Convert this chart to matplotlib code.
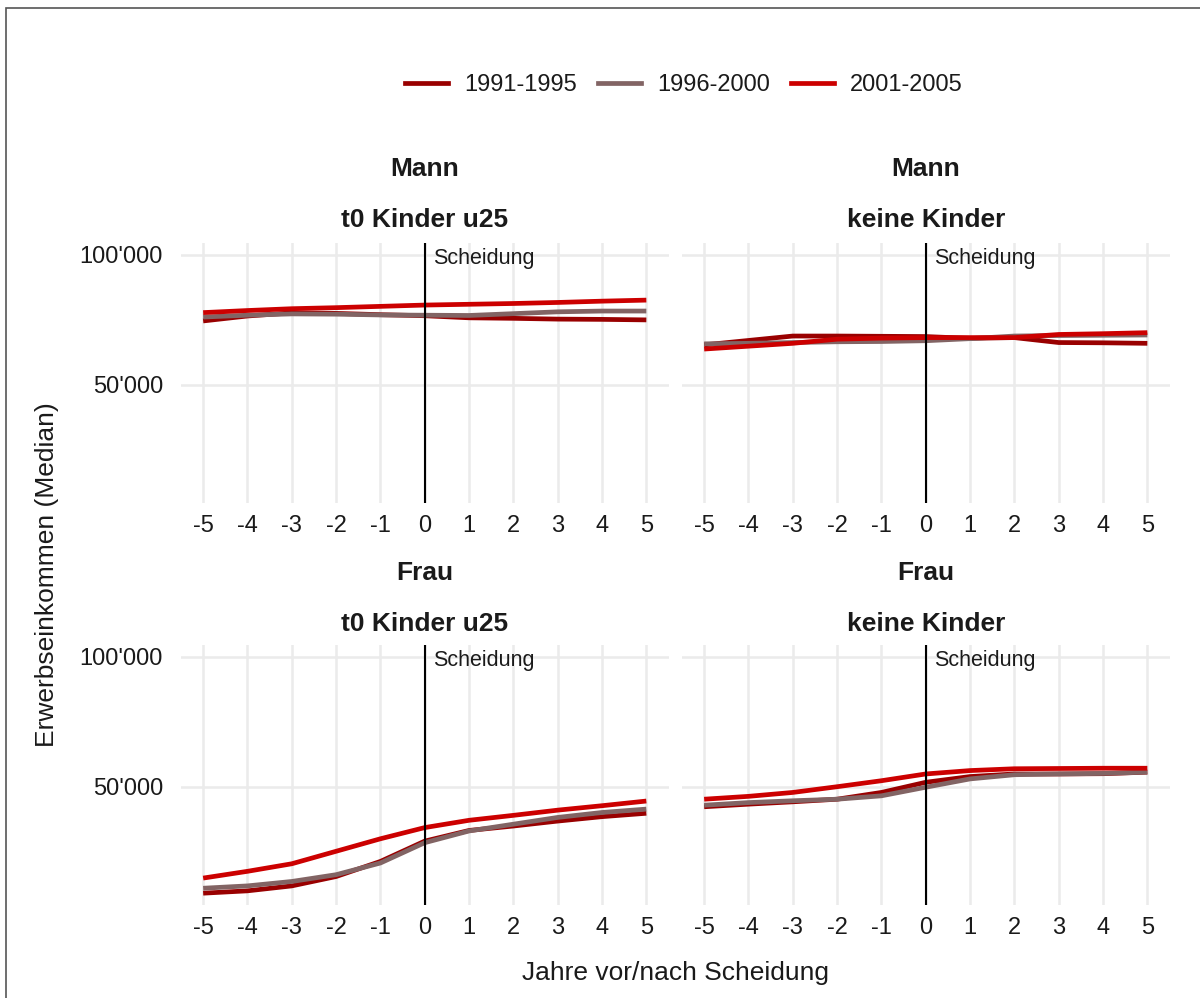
import matplotlib
matplotlib.use("Agg")
import matplotlib.pyplot as plt
from matplotlib.ticker import FuncFormatter
from matplotlib.patches import Rectangle
from matplotlib.lines import Line2D

plt.rcParams['font.family'] = ['Liberation Sans', 'DejaVu Sans']

years = [-5, -4, -3, -2, -1, 0, 1, 2, 3, 4, 5]
cohorts = ["1991-1995", "1996-2000", "2001-2005"]
colors = ["#990000", "#826464", "#CC0000"]

m_kids_1991 = [74600, 76500, 77700, 77500, 77000, 76600, 75800, 75600, 75300, 75200, 75000]
m_kids_1996 = [76100, 76800, 77300, 77200, 76900, 76800, 76700, 77400, 78100, 78400, 78400]
m_kids_2001 = [77800, 78600, 79300, 79700, 80200, 80700, 81000, 81300, 81700, 82200, 82600]

m_none_1991 = [65400, 67100, 68800, 68800, 68700, 68600, 67900, 68200, 66300, 66200, 66000]
m_none_1996 = [65800, 66000, 66300, 66600, 66700, 67000, 67800, 68800, 69000, 69100, 69200]
m_none_2001 = [63800, 64900, 66000, 67600, 68000, 68200, 68200, 68200, 69400, 69700, 70100]

f_kids_1991 = [9200, 10100, 12000, 15600, 21400, 29200, 33300, 35000, 36900, 38600, 39900]
f_kids_1996 = [11100, 12000, 13700, 16300, 20800, 28600, 33100, 35700, 38300, 40200, 41500]
f_kids_2001 = [15000, 17600, 20500, 25300, 30100, 34400, 37200, 39100, 41100, 42800, 44600]

f_none_1991 = [42400, 43400, 44300, 45300, 47900, 51800, 54000, 55000, 55000, 55100, 55700]
f_none_1996 = [43000, 44000, 44700, 45300, 46600, 49900, 53100, 54700, 55000, 55200, 55700]
f_none_2001 = [45300, 46400, 47900, 50100, 52400, 55000, 56300, 57000, 57100, 57200, 57200]

panels = [
    ("Mann", "t0 Kinder u25", [m_kids_1991, m_kids_1996, m_kids_2001]),
    ("Mann", "keine Kinder", [m_none_1991, m_none_1996, m_none_2001]),
    ("Frau", "t0 Kinder u25", [f_kids_1991, f_kids_1996, f_kids_2001]),
    ("Frau", "keine Kinder", [f_none_1991, f_none_1996, f_none_2001]),
]
yticks = [50000, 100000]
event_label = "Scheidung"
event_y = 100000

W, H = 1200, 998
fig = plt.figure(figsize=(W / 100, H / 100), dpi=100)
fig.patch.set_facecolor("white")

# border (cropped at right/bottom)
fig.patches.append(Rectangle((6 / W, -0.1), 1.2, 1 - 8 / H + 0.1, transform=fig.transFigure,
                             fill=False, edgecolor="#555555", linewidth=1.2))

lefts = [181 / W, 682 / W]
bottoms = [1 - 503 / H, 1 - 905 / H]
pw = 487.5 / W
ph = 260 / H

fmt = FuncFormatter(lambda v, p: format(int(round(v)), ",").replace(",", "'"))

for i, (sex, grp, series) in enumerate(panels):
    r, c = divmod(i, 2)
    ax = fig.add_axes([lefts[c], bottoms[r], pw, ph])
    for s in ax.spines.values():
        s.set_visible(False)
    ax.set_xlim(-5.5, 5.5)
    ax.set_ylim(4660, 104540)
    ax.set_xticks(years)
    ax.set_xticklabels([str(y) for y in years])
    ax.set_yticks(yticks)
    ax.yaxis.set_major_formatter(fmt)
    if c == 1:
        ax.set_yticklabels([])
    ax.grid(True, color="#EBEBEB", linewidth=1.8)
    ax.set_axisbelow(True)
    ax.tick_params(length=0, labelsize=17, colors="#1A1A1A", pad=9)
    ax.tick_params(axis="y", pad=13)
    for k, vals in enumerate(series):
        ax.plot(years, vals, color=colors[k], linewidth=3.4, solid_capstyle="butt", zorder=3)
    ax.axvline(0, color="black", linewidth=1.5, zorder=4)
    ax.annotate(event_label, xy=(0, event_y), xytext=(6, -3), textcoords="offset points",
                fontsize=15.5, va="center", ha="left", color="#1A1A1A", zorder=5)
    cx = (lefts[c] + pw / 2)
    top_px = 243 if r == 0 else 647
    fig.text(cx, 1 - (top_px - 74) / H, sex, ha="center", va="center", fontsize=19,
             fontweight="bold", color="#1A1A1A")
    fig.text(cx, 1 - (top_px - 23) / H, grp, ha="center", va="center", fontsize=19,
             fontweight="bold", color="#1A1A1A")

fig.text(675 / W, 1 - 973 / H, "Jahre vor/nach Scheidung", ha="center", va="center",
         fontsize=19, color="#1A1A1A")
fig.text(47 / W, 1 - 575 / H, "Erwerbseinkommen (Median)", ha="center", va="center",
         rotation=90, fontsize=19, color="#1A1A1A")

handles = [Line2D([0], [0], color=col, linewidth=3.4) for col in colors]
fig.legend(handles, cohorts, loc="center", bbox_to_anchor=(684 / W, 1 - 85 / H), ncol=3,
           frameon=False, fontsize=17, handlelength=1.8, handletextpad=0.7,
           columnspacing=0.9, labelcolor="#1A1A1A")

fig.savefig("out.png", dpi=100)
